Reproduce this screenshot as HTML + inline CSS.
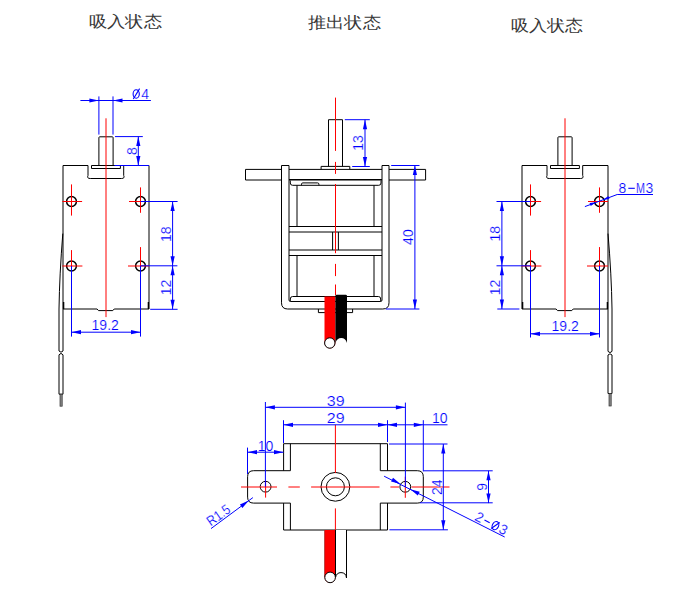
<!DOCTYPE html>
<html><head><meta charset="utf-8">
<style>
html,body{margin:0;padding:0;background:#fff;width:678px;height:589px;overflow:hidden}
svg{display:block}
.t{font-family:"Liberation Serif",serif;font-size:16px;fill:#383838}
.d{font-family:"Liberation Sans",sans-serif;font-size:14px;fill:#0000ff;stroke:#fff;stroke-width:0.2}
</style></head><body>
<svg width="678" height="589" viewBox="0 0 678 589">
<defs>
<path id="arr" d="M0 0 L-9.5 -2.1 L-9.5 2.1 Z" fill="#0000ff"/>
<g id="body">
  <g fill="none" stroke="#000" stroke-width="1">
    <path d="M98.9 165.5 V137.6 Q98.9 136.8 99.7 136.8 H112.3 Q113.1 136.8 113.1 137.6 V165.5"/>
    <path d="M63 309 V165.5 H88"/>
    <path d="M123.7 165.5 H149 V309 H114.2 L112.8 310.6 H98.5 L97.1 309 H63"/>
    <path d="M88 165.5 V175.5 Q86.6 178.5 90.3 178.5 H121.4 Q125.1 178.5 123.7 175.5 V165.5"/>
    <path d="M91.5 165.5 V168.5 H120.4 V165.5 Z"/>
    <path d="M63.6 302 V309 M148.4 302 V309" stroke-width="1.4"/>
  </g>
  <g fill="none" stroke="#000" stroke-width="1.5">
    <circle cx="71.5" cy="201.5" r="4.9"/>
    <circle cx="140.5" cy="201.5" r="4.9"/>
    <circle cx="71.5" cy="266" r="4.9"/>
    <circle cx="140.5" cy="266" r="4.9"/>
  </g>
  <g stroke="#ff0000" stroke-width="1" fill="none">
    <path d="M106 118.3 V317.1"/>
    <path d="M62.4 201.5 H82.1 M71.5 184.4 V215.6"/>
    <path d="M129 201.5 H149 M140.5 187.4 V212.8"/>
    <path d="M62.4 266 H82.4 M71.5 250.1 V266"/>
    <path d="M128 266 H149 M140.5 247.1 V266"/>
  </g>
</g>
</defs>

<!-- titles -->
<text class="t" x="88.8" y="27.3" textLength="73" lengthAdjust="spacingAndGlyphs">吸入状态</text>
<text class="t" x="307.8" y="28.3" textLength="73" lengthAdjust="spacingAndGlyphs">推出状态</text>
<text class="t" x="510.6" y="30.5" textLength="72" lengthAdjust="spacingAndGlyphs">吸入状态</text>

<!-- ============ LEFT VIEW ============ -->
<use href="#body"/>
<g fill="none" stroke="#000" stroke-width="1">
  <path d="M62.8 233.6 Q59.5 275 59 309 V351 M63 309 V351"/>
  <path d="M59 351 L61 352.2 L63 351 M59 354.8 L61 353.4 L63 354.8"/>
  <path d="M59 354.8 V394.2 H63 V354.8"/>
</g>
<rect x="60" y="394.2" width="2.2" height="12" fill="#888" stroke="#333" stroke-width="0.7"/>
<g stroke="#0000ff" stroke-width="1" fill="none">
  <path d="M80.4 100.5 H150.9 M98.9 96.4 V134.6 M113 96.4 V134.6"/>
  <path d="M115 136.6 H142.8 M114.5 165.5 H149 M138.3 136.6 V165.5"/>
  <path d="M140.5 201.5 H177.6 M140.5 265.8 H177.4 M150.2 309.3 H177.6 M172.6 201.5 V309.3"/>
  <path d="M71.5 266 V336.6 M140.5 266 V336.6 M71.5 332.2 H140.5"/>
</g>
<use href="#arr" transform="translate(98.9 100.5)"/>
<use href="#arr" transform="translate(113 100.5) rotate(180)"/>
<use href="#arr" transform="translate(138.3 136.6) rotate(-90)"/>
<use href="#arr" transform="translate(138.3 165.5) rotate(90)"/>
<use href="#arr" transform="translate(172.6 201.5) rotate(-90)"/>
<use href="#arr" transform="translate(172.6 265.8) rotate(90)"/>
<use href="#arr" transform="translate(172.6 265.8) rotate(-90)"/>
<use href="#arr" transform="translate(172.6 309.3) rotate(90)"/>
<use href="#arr" transform="translate(71.5 332.2) rotate(180)"/>
<use href="#arr" transform="translate(140.5 332.2)"/>
<g fill="none" stroke="#0000ff" stroke-width="1.1"><ellipse cx="136.2" cy="94" rx="3.1" ry="4.2"/><path d="M133.3 99 L139.6 88.6"/></g>
<text class="d" x="141.3" y="98.7">4</text>
<text class="d" transform="translate(136.6 151.2) rotate(-90)" text-anchor="middle">8</text>
<text class="d" transform="translate(170.9 234.2) rotate(-90)" text-anchor="middle">18</text>
<text class="d" transform="translate(170.9 287.5) rotate(-90)" text-anchor="middle">12</text>
<text class="d" x="105.2" y="330" text-anchor="middle">19.2</text>

<!-- ============ MIDDLE VIEW ============ -->
<g fill="none" stroke="#000" stroke-width="1">
  <path d="M328.5 166.4 V119.7 H342.5 V166.4"/>
  <path d="M321.1 169.3 V166.4 H349.8 V169.3"/>
  <path d="M281.5 169.4 H245.5 V180 H281.5"/>
  <path d="M389 169.4 H425.6 V180 H389"/>
  <path d="M289 169.4 H382"/>
  <path d="M281.5 302.8 V165.5 H289 V300 Q289 301.5 290.5 301.5 H380.5 Q382 301.5 382 300 V165.5 H389 V302.8 Q389 309 382.8 309 H287.7 Q281.5 309 281.5 302.8"/>
  <path d="M289 179.8 H382" stroke-width="1.4"/>
  <path d="M290.3 180.5 V183 Q290.3 185.3 292.6 185.3 H378.7 Q381 185.3 381 183 V180.5"/>
  <path d="M301.5 185.3 V184.2 Q301.5 182.9 302.8 182.9 H317.6 Q318.9 182.9 318.9 184.2 V185.3"/>
  <path d="M297 185.3 V226.5 M374 185.3 V226.5 M297 255.5 V296.5 M374 255.5 V296.5"/>
  <path d="M289 226.5 H382 M289 232 H382 M289 250 H382 M289 255.5 H382"/>
  <path d="M332.6 232 V250 M338.4 232 V250"/>
  <path d="M292.6 296.5 H378.4 Q380.7 296.5 380.7 299 V301.5 M290.3 301.5 V299 Q290.3 296.5 292.6 296.5"/>
  <path d="M318.4 309 V312.6 H352.6 V309"/>
</g>
<!-- wires middle -->
<path d="M324.5 296.6 H335.4 V343 A5.45 5.45 0 0 1 324.5 343 Z" fill="#ff0000"/>
<path d="M335.4 296 Q335.4 294.7 336.7 294.7 H345.7 Q347 294.7 347 296 V343 Q345.5 338 341.3 338 Q337 338 335.4 343 Z" fill="#000"/>
<circle cx="329.8" cy="343" r="5.2" fill="#fff" stroke="#000" stroke-width="1"/>
<g stroke="#ff0000" stroke-width="1" fill="none">
  <path d="M335.5 97.6 V150.9 M335.5 161.9 V173.9 M335.5 184 V253.2 M335.5 263.9 V276.1 M335.5 284.5 V295.2"/>
</g>
<g stroke="#0000ff" stroke-width="1" fill="none">
  <path d="M344.8 119.7 H369.8 M352.2 166.5 H369.8 M365 119.7 V166.5"/>
  <path d="M391.2 165.5 H419.5 M385.8 309 H419.4 M414.9 165.5 V309"/>
</g>
<use href="#arr" transform="translate(365 119.7) rotate(-90)"/>
<use href="#arr" transform="translate(365 166.5) rotate(90)"/>
<use href="#arr" transform="translate(414.9 165.5) rotate(-90)"/>
<use href="#arr" transform="translate(414.9 309) rotate(90)"/>
<text class="d" transform="translate(363.3 143) rotate(-90)" text-anchor="middle">13</text>
<text class="d" transform="translate(412.8 237.1) rotate(-90)" text-anchor="middle">40</text>

<!-- ============ RIGHT VIEW ============ -->
<use href="#body" transform="translate(459 0)"/>
<g fill="none" stroke="#000" stroke-width="1">
  <path d="M608 233.6 Q611.5 275 612 309 V351.4 M608 309 V351.4"/>
  <path d="M608 351.4 L610 352.6 L612 351.4 M608 355 L610 353.8 L612 355"/>
  <path d="M608 355 V393.5 H612 V355"/>
</g>
<rect x="609" y="393.5" width="2.2" height="12.5" fill="#888" stroke="#333" stroke-width="0.7"/>
<g stroke="#0000ff" stroke-width="1" fill="none">
  <path d="M496.5 201.5 H530.5 M496.5 265.8 H530.5 M497.3 309 H519.4 M501.9 201.5 V309"/>
  <path d="M530.5 266 V337.5 M599.5 266 V337.5 M530.5 333.8 H599.5"/>
  <path d="M584.9 206.6 L617.2 194.5 H653"/>
</g>
<use href="#arr" transform="translate(501.9 201.5) rotate(-90)"/>
<use href="#arr" transform="translate(501.9 265.8) rotate(90)"/>
<use href="#arr" transform="translate(501.9 265.8) rotate(-90)"/>
<use href="#arr" transform="translate(501.9 309) rotate(90)"/>
<use href="#arr" transform="translate(530.5 333.8) rotate(180)"/>
<use href="#arr" transform="translate(599.5 333.8)"/>
<path d="M0 0 L-6.5 -1.6 L-6.5 1.6 Z" fill="#0000ff" transform="translate(596.2 202.3) rotate(-20.6)"/>
<path d="M0 0 L-6.5 -1.6 L-6.5 1.6 Z" fill="#0000ff" transform="translate(602.8 199.9) rotate(159.4)"/>
<text class="d" transform="translate(500.2 233.8) rotate(-90)" text-anchor="middle">18</text>
<text class="d" transform="translate(500.2 287.4) rotate(-90)" text-anchor="middle">12</text>
<text class="d" x="565.2" y="331.2" text-anchor="middle">19.2</text>
<text class="d" x="618.4" y="193">8</text><path d="M628.3 188.3 H634.8" stroke="#0000ff" stroke-width="1.1"/><text class="d" x="636" y="193" textLength="9" lengthAdjust="spacingAndGlyphs">M</text><text class="d" x="645.4" y="193">3</text>

<!-- ============ BOTTOM VIEW ============ -->
<g fill="none" stroke="#000" stroke-width="1">
  <path d="M283.6 470.7 V443.7 H387.5 V470.7 M290.4 443.7 V470.7 M380.3 443.7 V470.7"/>
  <path d="M283.6 503.1 V530 H387.5 V503.1 M290.4 503.1 V530 M380.3 503.1 V530"/>
  <path d="M290.4 470.7 H253.6 Q247.6 470.7 247.6 476.7 V497.1 Q247.6 503.1 253.6 503.1 H290.4"/>
  <path d="M380.3 470.7 H417.3 Q423.3 470.7 423.3 476.7 V497.1 Q423.3 503.1 417.3 503.1 H380.3"/>
  <circle cx="335.4" cy="486.8" r="14.4"/>
  <circle cx="335.4" cy="486.8" r="9"/>
  <circle cx="265.6" cy="486.7" r="5.4"/>
  <circle cx="405.3" cy="486.8" r="5.4"/>
</g>
<g stroke="#ff0000" stroke-width="1" fill="none">
  <path d="M241 487 H277 M288.4 487 H299.8 M311.1 487 H379.5 M390.4 487 H399 M411.5 487 H449.5"/>
  <path d="M335.4 424.8 V473.1 M335.4 508.4 V530"/>
  <path d="M265.6 481 V497.6 M405.3 476.7 V497.8"/>
</g>
<!-- wires bottom -->
<path d="M324.6 530 H335.5 V577.4 A5.4 5.4 0 0 1 324.6 577.4 Z" fill="#ff0000"/>
<path d="M324.6 530.5 V577" stroke="#800" stroke-width="0.6"/>
<path d="M335.5 530 V577.5 Q336.5 572.6 341 572.6 Q346 572.6 346.5 578 V530" fill="#fff" stroke="#000" stroke-width="1"/>
<circle cx="330.1" cy="577.4" r="5.3" fill="#fff" stroke="#000" stroke-width="1"/>
<g stroke="#0000ff" stroke-width="1" fill="none">
  <path d="M265.4 402 V486.7 M405.4 402.6 V486.8 M265.4 407.3 H405.4"/>
  <path d="M283.5 420.2 V443 M387.5 420.2 V442 M283.5 424.8 H447.5 M423.3 420.2 V471.3"/>
  <path d="M247.5 447.6 V474 M247.5 452.2 H283.5"/>
  <path d="M389 444 H447.5 M389.4 529.8 H447.9 M443.3 444 V529.8"/>
  <path d="M423.3 470.8 H492.7 M420 502.8 H492.7 M488.5 470.8 V503.1"/>
  <path d="M384.1 476.2 L504.7 537"/>
  <path d="M252.9 497.6 L211 528.6"/>
</g>
<use href="#arr" transform="translate(265.4 407.3) rotate(180)"/>
<use href="#arr" transform="translate(405.4 407.3)"/>
<use href="#arr" transform="translate(283.5 424.8) rotate(180)"/>
<use href="#arr" transform="translate(387.5 424.8)"/>
<use href="#arr" transform="translate(387.5 424.8) rotate(180)"/>
<use href="#arr" transform="translate(423.3 424.8)"/>
<use href="#arr" transform="translate(247.5 452.2) rotate(180)"/>
<use href="#arr" transform="translate(283.5 452.2)"/>
<use href="#arr" transform="translate(443.3 444) rotate(-90)"/>
<use href="#arr" transform="translate(443.3 529.8) rotate(90)"/>
<use href="#arr" transform="translate(488.5 470.8) rotate(-90)"/>
<use href="#arr" transform="translate(488.5 503.1) rotate(90)"/>
<use href="#arr" transform="translate(400.5 484) rotate(27)"/>
<use href="#arr" transform="translate(410.3 489.3) rotate(207)"/>
<use href="#arr" transform="translate(248.8 500.6) rotate(-36.5)"/>
<text class="d" x="326.8" y="406" textLength="17.8" lengthAdjust="spacingAndGlyphs">39</text>
<text class="d" x="326.8" y="423" textLength="17.8" lengthAdjust="spacingAndGlyphs">29</text>
<text class="d" x="265.6" y="450.5" text-anchor="middle">10</text>
<text class="d" x="439.8" y="423" text-anchor="middle">10</text>
<text class="d" transform="translate(441.5 487.3) rotate(-90)" text-anchor="middle">24</text>
<text class="d" transform="translate(487 486.8) rotate(-90)" text-anchor="middle">9</text>
<g transform="translate(474.4 520.1) rotate(26.76)"><text class="d" x="-0.6" y="0">2</text><g fill="none" stroke="#0000ff" stroke-width="1.1"><path d="M9 -4.6 H14.8"/><ellipse cx="21.3" cy="-4.5" rx="3.1" ry="4.3"/><path d="M18.7 0 L23.7 -9.3"/></g><text class="d" x="26.2" y="0">3</text></g>
<text class="d" transform="translate(210.8 526.5) rotate(-35.5)" textLength="25.5" lengthAdjust="spacingAndGlyphs">R1.5</text>
</svg>
</body></html>
